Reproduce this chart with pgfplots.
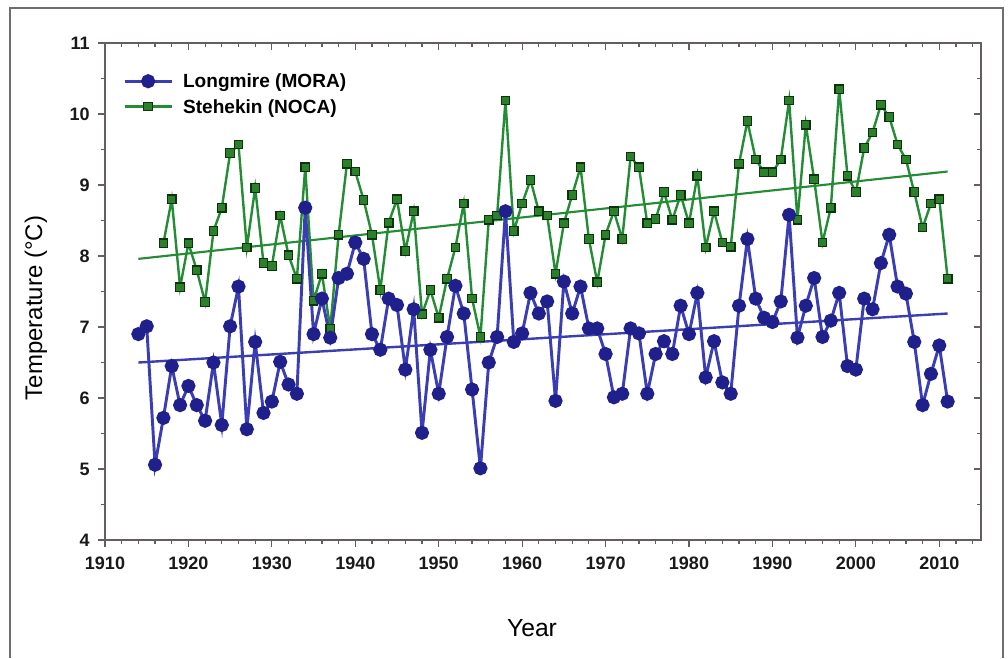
\documentclass[border=0pt]{standalone}
\usepackage{pgfplots}
\pgfplotsset{compat=1.18}
\usepackage{pgfplotstable}
\usepackage{fontspec}
\setmainfont{Liberation Sans}
\definecolor{lblue}{RGB}{58,62,178}
\definecolor{mblue}{RGB}{32,32,140}
\definecolor{lgreen}{RGB}{36,140,52}
\definecolor{mgreen}{RGB}{44,128,44}
\definecolor{dgreen}{RGB}{12,52,12}
\definecolor{axgray}{RGB}{100,94,94}
\definecolor{framegray}{RGB}{110,110,110}

\pgfplotstableread{
year temp
1914 6.90
1915 7.01
1916 5.06
1917 5.72
1918 6.45
1919 5.90
1920 6.17
1921 5.90
1922 5.68
1923 6.50
1924 5.62
1925 7.01
1926 7.57
1927 5.56
1928 6.79
1929 5.79
1930 5.95
1931 6.51
1932 6.19
1933 6.06
1934 8.68
1935 6.90
1936 7.40
1937 6.85
1938 7.69
1939 7.75
1940 8.19
1941 7.96
1942 6.90
1943 6.68
1944 7.40
1945 7.31
1946 6.40
1947 7.25
1948 5.51
1949 6.68
1950 6.06
1951 6.86
1952 7.58
1953 7.19
1954 6.12
1955 5.01
1956 6.50
1957 6.86
1958 8.63
1959 6.79
1960 6.91
1961 7.48
1962 7.19
1963 7.36
1964 5.96
1965 7.64
1966 7.19
1967 7.57
1968 6.98
1969 6.98
1970 6.62
1971 6.01
1972 6.06
1973 6.98
1974 6.91
1975 6.06
1976 6.62
1977 6.80
1978 6.62
1979 7.30
1980 6.90
1981 7.48
1982 6.29
1983 6.80
1984 6.22
1985 6.06
1986 7.30
1987 8.24
1988 7.40
1989 7.13
1990 7.07
1991 7.36
1992 8.58
1993 6.85
1994 7.30
1995 7.69
1996 6.86
1997 7.09
1998 7.48
1999 6.45
2000 6.40
2001 7.40
2002 7.25
2003 7.90
2004 8.30
2005 7.57
2006 7.47
2007 6.79
2008 5.90
2009 6.34
2010 6.74
2011 5.95
}\longmire

\pgfplotstableread{
year temp
1917 8.18
1918 8.80
1919 7.56
1920 8.18
1921 7.80
1922 7.35
1923 8.35
1924 8.68
1925 9.45
1926 9.57
1927 8.12
1928 8.96
1929 7.90
1930 7.86
1931 8.57
1932 8.01
1933 7.68
1934 9.25
1935 7.37
1936 7.75
1937 6.98
1938 8.30
1939 9.30
1940 9.19
1941 8.79
1942 8.30
1943 7.52
1944 8.47
1945 8.80
1946 8.07
1947 8.63
1948 7.18
1949 7.52
1950 7.13
1951 7.68
1952 8.12
1953 8.74
1954 7.40
1955 6.86
1956 8.51
1957 8.57
1958 10.19
1959 8.35
1960 8.74
1961 9.07
1962 8.63
1963 8.57
1964 7.75
1965 8.46
1966 8.86
1967 9.25
1968 8.24
1969 7.63
1970 8.30
1971 8.63
1972 8.24
1973 9.40
1974 9.25
1975 8.46
1976 8.52
1977 8.90
1978 8.51
1979 8.86
1980 8.46
1981 9.13
1982 8.12
1983 8.63
1984 8.19
1985 8.13
1986 9.30
1987 9.90
1988 9.36
1989 9.18
1990 9.18
1991 9.36
1992 10.19
1993 8.51
1994 9.85
1995 9.08
1996 8.19
1997 8.68
1998 10.35
1999 9.13
2000 8.90
2001 9.52
2002 9.74
2003 10.13
2004 9.96
2005 9.57
2006 9.36
2007 8.90
2008 8.40
2009 8.74
2010 8.80
2011 7.68
}\stehekin

\begin{document}
\begin{tikzpicture}
\useasboundingbox (0,0) rectangle (756pt,-493.5pt);
\draw[framegray, line width=1.5pt] (7.5pt,-493.5pt) -- (7.5pt,-6pt) -- (752.5pt,-6pt) -- (752.5pt,-493.5pt);

% overlay axis for inward ticks on top and right
\begin{axis}[
  at={(78.75pt,-405pt)}, anchor=south west,
  width=657pt, height=372.75pt, scale only axis,
  xmin=1910, xmax=2015, ymin=4, ymax=11,
  axis line style={axgray, line width=1.1pt},
  xtick={1910,1920,...,2010}, minor xtick={1912,1914,...,2014},
  ytick={4,...,11}, minor ytick={4.5,5.5,...,10.5},
  xtick pos=top, ytick pos=right, tick align=inside,
  xticklabels={}, yticklabels={},
  major tick length=5pt, minor tick length=3pt,
  every tick/.style={axgray, line width=0.9pt},
]
\end{axis}

\begin{axis}[
  at={(78.75pt,-405pt)}, anchor=south west,
  width=657pt, height=372.75pt, scale only axis,
  xmin=1910, xmax=2015, ymin=4, ymax=11,
  axis line style={axgray, line width=1.1pt},
  xtick={1910,1920,...,2010}, minor xtick={1912,1914,...,2014},
  xticklabels={1910,1920,1930,1940,1950,1960,1970,1980,1990,2000,2010},
  ytick={4,...,11}, minor ytick={4.5,5.5,...,10.5},
  yticklabels={4,5,6,7,8,9,10,11},
  xtick pos=bottom, ytick pos=left, tick align=outside,
  major tick length=5pt, minor tick length=3pt,
  every tick/.style={axgray, line width=0.9pt},
  ticklabel style={font=\fontsize{13.5}{14}\selectfont\bfseries, text=black!90},
  xticklabel style={yshift=-4pt},
  yticklabel style={xshift=-3pt},
  reverse legend,
  legend cell align=left,
  legend style={draw=none, fill=none, at={(axis description cs:0.0205,0.8976)}, anchor=west,
    inner xsep=0pt, inner ysep=0pt, row sep=9pt,
    font=\fontsize{14.3}{15}\selectfont\bfseries,
    nodes={inner sep=0pt, text height=10pt, text depth=0pt},
    /tikz/every odd column/.append style={column sep=7.5pt}},
  legend image code/.code={\draw[mark repeat=2,mark phase=2] plot coordinates {(0pt,0pt) (17.6pt,0pt) (35.2pt,0pt)};},
]
\addplot[lgreen, line width=1.6pt, forget plot] coordinates {(1914,7.96) (2011,9.19)};
\addplot[lblue, line width=1.8pt, forget plot] coordinates {(1914,6.50) (2011,7.19)};
\addplot[lgreen, line width=1.8pt, mark=square*, mark size=3.2pt,
  mark options={fill=mgreen, draw=dgreen, line width=0.9pt}] table[x=year,y=temp] {\stehekin};
\addlegendentry{Stehekin (NOCA)}
\addplot[lblue, line width=2.2pt, mark=*, mark size=4.2pt,
  mark options={fill=mblue, draw=mblue}] table[x=year,y=temp] {\longmire};
\addlegendentry{Longmire (MORA)}
\end{axis}

\node[rotate=90, font=\fontsize{18}{20}\selectfont] at (27pt,-231pt) {Temperature (°C)};
\node[font=\fontsize{18.5}{20}\selectfont] at (399pt,-471pt) {Year};
\end{tikzpicture}
\end{document}
